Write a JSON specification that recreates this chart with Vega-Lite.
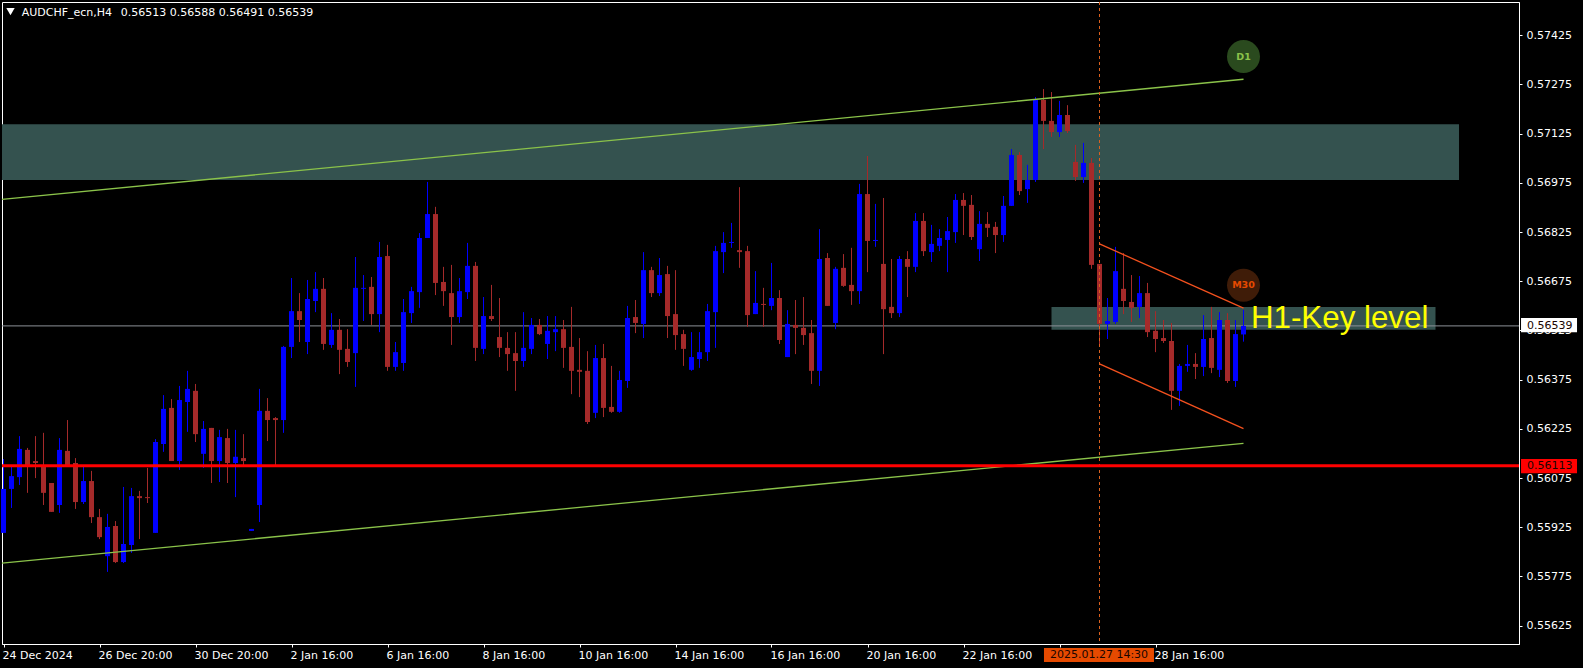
{"$schema":"https://vega.github.io/schema/vega-lite/v6.json","width":1517,"height":642,"autosize":"none","padding":{"left":2,"top":2,"right":64,"bottom":24},"background":"#000000","config":{"view":{"stroke":"#ffffff","strokeWidth":1},"axis":{"grid":false,"title":null}},
"datasets":{"candles":[
{"i":0,"s":"up","o":0.55908,"h":0.56133,"l":0.55908,"c":0.56042},
{"i":1,"s":"up","o":0.56042,"h":0.56109,"l":0.55984,"c":0.56081},
{"i":2,"s":"up","o":0.56078,"h":0.56203,"l":0.56054,"c":0.56164},
{"i":3,"s":"down","o":0.56161,"h":0.56167,"l":0.56030,"c":0.56112},
{"i":4,"s":"down","o":0.56127,"h":0.56203,"l":0.56075,"c":0.56121},
{"i":5,"s":"down","o":0.56115,"h":0.56213,"l":0.55993,"c":0.56030},
{"i":6,"s":"down","o":0.56060,"h":0.56060,"l":0.55972,"c":0.55972},
{"i":7,"s":"up","o":0.55993,"h":0.56197,"l":0.55969,"c":0.56161},
{"i":8,"s":"down","o":0.56158,"h":0.56252,"l":0.56112,"c":0.56115},
{"i":9,"s":"down","o":0.56121,"h":0.56136,"l":0.55981,"c":0.56002},
{"i":10,"s":"up","o":0.56002,"h":0.56109,"l":0.55996,"c":0.56066},
{"i":11,"s":"down","o":0.56066,"h":0.56097,"l":0.55938,"c":0.55956},
{"i":12,"s":"down","o":0.55956,"h":0.55981,"l":0.55889,"c":0.55895},
{"i":13,"s":"up","o":0.55837,"h":0.55966,"l":0.55789,"c":0.55926},
{"i":14,"s":"down","o":0.55929,"h":0.55944,"l":0.55816,"c":0.55819},
{"i":15,"s":"up","o":0.55819,"h":0.56048,"l":0.55816,"c":0.55874},
{"i":16,"s":"up","o":0.55871,"h":0.56045,"l":0.55847,"c":0.56020},
{"i":17,"s":"down","o":0.56020,"h":0.56036,"l":0.55889,"c":0.56014},
{"i":18,"s":"down","o":0.56017,"h":0.56106,"l":0.55999,"c":0.56014},
{"i":19,"s":"up","o":0.55908,"h":0.56194,"l":0.55908,"c":0.56185},
{"i":20,"s":"up","o":0.56179,"h":0.56328,"l":0.56155,"c":0.56286},
{"i":21,"s":"down","o":0.56289,"h":0.56316,"l":0.56127,"c":0.56127},
{"i":22,"s":"up","o":0.56127,"h":0.56356,"l":0.56100,"c":0.56313},
{"i":23,"s":"up","o":0.56307,"h":0.56402,"l":0.56216,"c":0.56347},
{"i":24,"s":"down","o":0.56341,"h":0.56362,"l":0.56185,"c":0.56209},
{"i":25,"s":"up","o":0.56149,"h":0.56249,"l":0.56106,"c":0.56225},
{"i":26,"s":"down","o":0.56228,"h":0.56228,"l":0.56060,"c":0.56127},
{"i":27,"s":"up","o":0.56127,"h":0.56222,"l":0.56063,"c":0.56200},
{"i":28,"s":"down","o":0.56197,"h":0.56225,"l":0.56060,"c":0.56121},
{"i":29,"s":"up","o":0.56121,"h":0.56222,"l":0.56017,"c":0.56140},
{"i":30,"s":"down","o":0.56136,"h":0.56209,"l":0.56115,"c":0.56127},
{"i":31,"s":"up","o":0.55914,"h":0.55920,"l":0.55914,"c":0.55920},
{"i":32,"s":"up","o":0.55993,"h":0.56347,"l":0.55941,"c":0.56280},
{"i":33,"s":"down","o":0.56280,"h":0.56319,"l":0.56188,"c":0.56252},
{"i":34,"s":"down","o":0.56258,"h":0.56261,"l":0.56115,"c":0.56252},
{"i":35,"s":"up","o":0.56252,"h":0.56478,"l":0.56213,"c":0.56475},
{"i":36,"s":"up","o":0.56475,"h":0.56685,"l":0.56441,"c":0.56584},
{"i":37,"s":"down","o":0.56584,"h":0.56639,"l":0.56490,"c":0.56557},
{"i":38,"s":"up","o":0.56490,"h":0.56679,"l":0.56453,"c":0.56621},
{"i":39,"s":"up","o":0.56615,"h":0.56703,"l":0.56581,"c":0.56652},
{"i":40,"s":"down","o":0.56652,"h":0.56685,"l":0.56466,"c":0.56484},
{"i":41,"s":"up","o":0.56481,"h":0.56578,"l":0.56472,"c":0.56527},
{"i":42,"s":"down","o":0.56527,"h":0.56560,"l":0.56392,"c":0.56466},
{"i":43,"s":"down","o":0.56469,"h":0.56529,"l":0.56414,"c":0.56429},
{"i":44,"s":"up","o":0.56456,"h":0.56749,"l":0.56353,"c":0.56655},
{"i":45,"s":"up","o":0.56652,"h":0.56694,"l":0.56554,"c":0.56655},
{"i":46,"s":"down","o":0.56658,"h":0.56688,"l":0.56542,"c":0.56575},
{"i":47,"s":"up","o":0.56575,"h":0.56795,"l":0.56520,"c":0.56749},
{"i":48,"s":"down","o":0.56752,"h":0.56786,"l":0.56402,"c":0.56414},
{"i":49,"s":"up","o":0.56414,"h":0.56490,"l":0.56402,"c":0.56459},
{"i":50,"s":"up","o":0.56426,"h":0.56621,"l":0.56402,"c":0.56581},
{"i":51,"s":"up","o":0.56578,"h":0.56658,"l":0.56548,"c":0.56645},
{"i":52,"s":"up","o":0.56642,"h":0.56822,"l":0.56594,"c":0.56807},
{"i":53,"s":"up","o":0.56807,"h":0.56978,"l":0.56807,"c":0.56880},
{"i":54,"s":"down","o":0.56880,"h":0.56902,"l":0.56633,"c":0.56670},
{"i":55,"s":"down","o":0.56673,"h":0.56719,"l":0.56600,"c":0.56645},
{"i":56,"s":"down","o":0.56639,"h":0.56725,"l":0.56481,"c":0.56566},
{"i":57,"s":"up","o":0.56566,"h":0.56685,"l":0.56548,"c":0.56645},
{"i":58,"s":"up","o":0.56642,"h":0.56792,"l":0.56621,"c":0.56722},
{"i":59,"s":"down","o":0.56722,"h":0.56734,"l":0.56432,"c":0.56472},
{"i":60,"s":"up","o":0.56469,"h":0.56627,"l":0.56453,"c":0.56569},
{"i":61,"s":"down","o":0.56569,"h":0.56664,"l":0.56554,"c":0.56560},
{"i":62,"s":"down","o":0.56505,"h":0.56624,"l":0.56444,"c":0.56472},
{"i":63,"s":"down","o":0.56472,"h":0.56520,"l":0.56402,"c":0.56453},
{"i":64,"s":"down","o":0.56456,"h":0.56520,"l":0.56341,"c":0.56432},
{"i":65,"s":"up","o":0.56432,"h":0.56581,"l":0.56414,"c":0.56472},
{"i":66,"s":"up","o":0.56469,"h":0.56563,"l":0.56453,"c":0.56542},
{"i":67,"s":"down","o":0.56542,"h":0.56560,"l":0.56511,"c":0.56514},
{"i":68,"s":"up","o":0.56484,"h":0.56569,"l":0.56438,"c":0.56524},
{"i":69,"s":"up","o":0.56520,"h":0.56569,"l":0.56462,"c":0.56529},
{"i":70,"s":"down","o":0.56529,"h":0.56557,"l":0.56411,"c":0.56472},
{"i":71,"s":"down","o":0.56475,"h":0.56597,"l":0.56331,"c":0.56402},
{"i":72,"s":"down","o":0.56405,"h":0.56502,"l":0.56322,"c":0.56399},
{"i":73,"s":"down","o":0.56402,"h":0.56462,"l":0.56240,"c":0.56246},
{"i":74,"s":"up","o":0.56274,"h":0.56481,"l":0.56258,"c":0.56441},
{"i":75,"s":"down","o":0.56441,"h":0.56484,"l":0.56261,"c":0.56289},
{"i":76,"s":"down","o":0.56292,"h":0.56417,"l":0.56274,"c":0.56277},
{"i":77,"s":"up","o":0.56277,"h":0.56402,"l":0.56274,"c":0.56374},
{"i":78,"s":"up","o":0.56371,"h":0.56600,"l":0.56350,"c":0.56563},
{"i":79,"s":"down","o":0.56566,"h":0.56618,"l":0.56517,"c":0.56548},
{"i":80,"s":"up","o":0.56545,"h":0.56764,"l":0.56502,"c":0.56709},
{"i":81,"s":"down","o":0.56709,"h":0.56719,"l":0.56627,"c":0.56639},
{"i":82,"s":"up","o":0.56639,"h":0.56746,"l":0.56630,"c":0.56694},
{"i":83,"s":"down","o":0.56697,"h":0.56722,"l":0.56502,"c":0.56569},
{"i":84,"s":"down","o":0.56575,"h":0.56709,"l":0.56466,"c":0.56511},
{"i":85,"s":"down","o":0.56514,"h":0.56527,"l":0.56417,"c":0.56469},
{"i":86,"s":"up","o":0.56405,"h":0.56520,"l":0.56402,"c":0.56444},
{"i":87,"s":"up","o":0.56438,"h":0.56520,"l":0.56411,"c":0.56459},
{"i":88,"s":"up","o":0.56459,"h":0.56606,"l":0.56432,"c":0.56584},
{"i":89,"s":"up","o":0.56581,"h":0.56783,"l":0.56472,"c":0.56767},
{"i":90,"s":"up","o":0.56764,"h":0.56825,"l":0.56700,"c":0.56792},
{"i":91,"s":"up","o":0.56792,"h":0.56853,"l":0.56777,"c":0.56795},
{"i":92,"s":"down","o":0.56770,"h":0.56962,"l":0.56716,"c":0.56764},
{"i":93,"s":"down","o":0.56767,"h":0.56783,"l":0.56536,"c":0.56572},
{"i":94,"s":"up","o":0.56575,"h":0.56706,"l":0.56575,"c":0.56609},
{"i":95,"s":"down","o":0.56606,"h":0.56655,"l":0.56536,"c":0.56603},
{"i":96,"s":"up","o":0.56600,"h":0.56731,"l":0.56587,"c":0.56624},
{"i":97,"s":"down","o":0.56624,"h":0.56648,"l":0.56484,"c":0.56496},
{"i":98,"s":"up","o":0.56444,"h":0.56587,"l":0.56444,"c":0.56545},
{"i":99,"s":"down","o":0.56542,"h":0.56618,"l":0.56453,"c":0.56533},
{"i":100,"s":"down","o":0.56533,"h":0.56627,"l":0.56481,"c":0.56511},
{"i":101,"s":"down","o":0.56517,"h":0.56557,"l":0.56362,"c":0.56402},
{"i":102,"s":"up","o":0.56402,"h":0.56834,"l":0.56356,"c":0.56743},
{"i":103,"s":"down","o":0.56746,"h":0.56761,"l":0.56600,"c":0.56600},
{"i":104,"s":"up","o":0.56548,"h":0.56719,"l":0.56529,"c":0.56713},
{"i":105,"s":"down","o":0.56716,"h":0.56758,"l":0.56658,"c":0.56661},
{"i":106,"s":"down","o":0.56664,"h":0.56777,"l":0.56603,"c":0.56645},
{"i":107,"s":"up","o":0.56645,"h":0.56972,"l":0.56606,"c":0.56941},
{"i":108,"s":"down","o":0.56941,"h":0.57057,"l":0.56703,"c":0.56798},
{"i":109,"s":"up","o":0.56798,"h":0.56911,"l":0.56780,"c":0.56801},
{"i":110,"s":"down","o":0.56728,"h":0.56929,"l":0.56453,"c":0.56590},
{"i":111,"s":"down","o":0.56597,"h":0.56743,"l":0.56563,"c":0.56578},
{"i":112,"s":"up","o":0.56578,"h":0.56752,"l":0.56566,"c":0.56743},
{"i":113,"s":"down","o":0.56743,"h":0.56767,"l":0.56627,"c":0.56719},
{"i":114,"s":"up","o":0.56719,"h":0.56883,"l":0.56703,"c":0.56859},
{"i":115,"s":"down","o":0.56859,"h":0.56883,"l":0.56752,"c":0.56767},
{"i":116,"s":"up","o":0.56764,"h":0.56847,"l":0.56734,"c":0.56789},
{"i":117,"s":"up","o":0.56783,"h":0.56834,"l":0.56767,"c":0.56807},
{"i":118,"s":"up","o":0.56801,"h":0.56871,"l":0.56703,"c":0.56828},
{"i":119,"s":"up","o":0.56825,"h":0.56941,"l":0.56792,"c":0.56923},
{"i":120,"s":"down","o":0.56923,"h":0.56944,"l":0.56816,"c":0.56905},
{"i":121,"s":"down","o":0.56908,"h":0.56938,"l":0.56801,"c":0.56810},
{"i":122,"s":"up","o":0.56773,"h":0.56889,"l":0.56737,"c":0.56850},
{"i":123,"s":"down","o":0.56850,"h":0.56886,"l":0.56810,"c":0.56838},
{"i":124,"s":"down","o":0.56841,"h":0.56856,"l":0.56761,"c":0.56816},
{"i":125,"s":"up","o":0.56816,"h":0.56935,"l":0.56795,"c":0.56905},
{"i":126,"s":"up","o":0.56905,"h":0.57078,"l":0.56905,"c":0.57060},
{"i":127,"s":"down","o":0.57060,"h":0.57069,"l":0.56938,"c":0.56950},
{"i":128,"s":"up","o":0.56956,"h":0.57030,"l":0.56914,"c":0.56984},
{"i":129,"s":"up","o":0.56984,"h":0.57237,"l":0.56978,"c":0.57228},
{"i":130,"s":"down","o":0.57228,"h":0.57261,"l":0.57078,"c":0.57164},
{"i":131,"s":"down","o":0.57164,"h":0.57252,"l":0.57115,"c":0.57130},
{"i":132,"s":"up","o":0.57130,"h":0.57225,"l":0.57115,"c":0.57182},
{"i":133,"s":"down","o":0.57182,"h":0.57212,"l":0.57127,"c":0.57133},
{"i":134,"s":"down","o":0.57039,"h":0.57091,"l":0.56981,"c":0.56993},
{"i":135,"s":"up","o":0.56993,"h":0.57097,"l":0.56975,"c":0.57036},
{"i":136,"s":"down","o":0.57036,"h":0.57051,"l":0.56713,"c":0.56725},
{"i":137,"s":"down","o":0.56728,"h":0.56728,"l":0.56478,"c":0.56545},
{"i":138,"s":"up","o":0.56545,"h":0.56624,"l":0.56499,"c":0.56554},
{"i":139,"s":"up","o":0.56551,"h":0.56780,"l":0.56545,"c":0.56706},
{"i":140,"s":"down","o":0.56652,"h":0.56761,"l":0.56575,"c":0.56615},
{"i":141,"s":"down","o":0.56612,"h":0.56694,"l":0.56551,"c":0.56594},
{"i":142,"s":"up","o":0.56597,"h":0.56691,"l":0.56563,"c":0.56639},
{"i":143,"s":"down","o":0.56639,"h":0.56670,"l":0.56505,"c":0.56520},
{"i":144,"s":"down","o":0.56524,"h":0.56584,"l":0.56459,"c":0.56499},
{"i":145,"s":"down","o":0.56502,"h":0.56557,"l":0.56487,"c":0.56493},
{"i":146,"s":"down","o":0.56493,"h":0.56548,"l":0.56283,"c":0.56341},
{"i":147,"s":"up","o":0.56341,"h":0.56423,"l":0.56295,"c":0.56417},
{"i":148,"s":"up","o":0.56417,"h":0.56481,"l":0.56399,"c":0.56423},
{"i":149,"s":"down","o":0.56423,"h":0.56456,"l":0.56377,"c":0.56414},
{"i":150,"s":"up","o":0.56414,"h":0.56572,"l":0.56386,"c":0.56499},
{"i":151,"s":"down","o":0.56502,"h":0.56597,"l":0.56395,"c":0.56411},
{"i":152,"s":"up","o":0.56405,"h":0.56581,"l":0.56383,"c":0.56557},
{"i":153,"s":"down","o":0.56557,"h":0.56578,"l":0.56365,"c":0.56371},
{"i":154,"s":"up","o":0.56371,"h":0.56557,"l":0.56353,"c":0.56514},
{"i":155,"s":"up","o":0.56513,"h":0.56588,"l":0.56491,"c":0.56539}
]},
"layer":[
{"data":{"values":[{"x1":-0.1875,"x2":181.94,"p1":0.57154,"p2":0.56984},{"x1":131,"x2":179,"p1":0.56597,"p2":0.56527}]},
"mark":{"type":"rect","fill":"#34524f"},
"encoding":{"x":{"field":"x1","type":"quantitative","scale":{"domain":[-0.1875,189.4375],"nice":false,"zero":false},"axis":{"orient":"bottom","values":[0,12,24,36,48,60,72,84,96,108,120,132,144],"labelExpr":"{'0':'24 Dec 2024','12':'26 Dec 20:00','24':'30 Dec 20:00','36':'2 Jan 16:00','48':'6 Jan 16:00','60':'8 Jan 16:00','72':'10 Jan 16:00','84':'14 Jan 16:00','96':'16 Jan 16:00','108':'20 Jan 16:00','120':'22 Jan 16:00','132':'24 Jan 16:00','144':'28 Jan 16:00'}[datum.value]","labelAlign":"left","labelBaseline":"middle","labelFont":"DejaVu Sans","labelFontSize":11,"labelColor":"#ffffff","labelPadding":8,"labelOffset":-1.5,"labelOverlap":false,"labelBound":false,"labelFlush":false,"tickColor":"#ffffff","tickSize":3,"domainColor":"#ffffff"}},"x2":{"field":"x2"},
"y":{"field":"p1","type":"quantitative","scale":{"domain":[0.555692,0.575265],"nice":false,"zero":false},"axis":{"orient":"right","values":[0.57425,0.57275,0.57125,0.56975,0.56825,0.56675,0.56525,0.56375,0.56225,0.56075,0.55925,0.55775,0.55625],"format":".5f","labelFont":"DejaVu Sans","labelFontSize":11,"labelColor":"#ffffff","labelPadding":4,"labelOverlap":false,"labelBound":false,"labelFlush":false,"tickColor":"#ffffff","tickSize":3,"domainColor":"#ffffff"}},"y2":{"field":"p2"}}},
{"data":{"values":[{"p":0.56539}]},"mark":{"type":"rule","color":"#8c9298","strokeWidth":1},"encoding":{"y":{"field":"p","type":"quantitative"}}},
{"data":{"name":"candles"},"mark":{"type":"rule","strokeWidth":1},"encoding":{"x":{"field":"i","type":"quantitative"},"y":{"field":"l","type":"quantitative"},"y2":{"field":"h"},"color":{"field":"s","type":"nominal","scale":{"domain":["up","down"],"range":["#0000ff","#a52a2a"]},"legend":null}}},
{"data":{"name":"candles"},"mark":{"type":"rule","strokeWidth":5},"encoding":{"x":{"field":"i","type":"quantitative"},"y":{"field":"o","type":"quantitative"},"y2":{"field":"c"},"color":{"field":"s","type":"nominal","legend":null}}},
{"data":{"values":[{"n":"a","x":-0.1875,"p":0.56925},{"n":"a","x":155,"p":0.57291},{"n":"b","x":-0.1875,"p":0.55816},{"n":"b","x":155,"p":0.56181}]},"mark":{"type":"line","color":"#8bc34a","strokeWidth":1.3},"encoding":{"detail":{"field":"n"},"x":{"field":"x","type":"quantitative"},"y":{"field":"p","type":"quantitative"}}},
{"data":{"values":[{"n":"a","x":137,"p":0.56789},{"n":"a","x":155,"p":0.56593},{"n":"b","x":137,"p":0.56423},{"n":"b","x":155,"p":0.56226}]},"mark":{"type":"line","color":"#f4511e","strokeWidth":1.3},"encoding":{"detail":{"field":"n"},"x":{"field":"x","type":"quantitative"},"y":{"field":"p","type":"quantitative"}}},
{"data":{"values":[{"x":137}]},"mark":{"type":"rule","color":"#d9601e","strokeWidth":1,"strokeDash":[3,3]},"encoding":{"x":{"field":"x","type":"quantitative"}}},
{"data":{"values":[{"p":0.56113}]},"mark":{"type":"rule","color":"#ff0000","strokeWidth":3},"encoding":{"y":{"field":"p","type":"quantitative"}}},
{"data":{"values":[{"x":155,"p":0.5736,"f":"#2a4a1e"},{"x":155,"p":0.56663,"f":"#3f1c08"}]},"mark":{"type":"point","shape":"circle","filled":true,"opacity":1,"size":1089},"encoding":{"x":{"field":"x","type":"quantitative"},"y":{"field":"p","type":"quantitative"},"color":{"field":"f","type":"nominal","scale":null}}},
{"data":{"values":[{"x":155,"p":0.5736,"t":"D1","f":"#8bc34a"},{"x":155,"p":0.56663,"t":"M30","f":"#e64a00"}]},"mark":{"type":"text","font":"DejaVu Sans","fontWeight":"bold","fontSize":9.5,"align":"center","baseline":"middle"},"encoding":{"x":{"field":"x","type":"quantitative"},"y":{"field":"p","type":"quantitative"},"text":{"field":"t"},"color":{"field":"f","type":"nominal","scale":null}}},
{"data":{"values":[{"x":155.93,"p":0.56532,"t":"H1-Key level"}]},"mark":{"type":"text","font":"Liberation Sans","fontSize":31.3,"align":"left","baseline":"alphabetic","color":"#ffff00"},"encoding":{"x":{"field":"x","type":"quantitative"},"y":{"field":"p","type":"quantitative"},"text":{"field":"t"}}},
{"data":{"values":[{"x1":189.69,"x2":196.69,"p1":0.56563,"p2":0.5652,"f":"#ffffff"},{"x1":189.69,"x2":196.69,"p1":0.56133,"p2":0.5609,"f":"#ff0000"},{"x1":130.06,"x2":143.81,"p1":0.55557,"p2":0.55514,"f":"#e64a00"}]},"mark":{"type":"rect","clip":false},"encoding":{"x":{"field":"x1","type":"quantitative"},"x2":{"field":"x2"},"y":{"field":"p1","type":"quantitative"},"y2":{"field":"p2"},"color":{"field":"f","type":"nominal","scale":null}}},
{"data":{"values":[{"x":190.44,"p":0.56539,"t":"0.56539"},{"x":190.44,"p":0.56113,"t":"0.56113"},{"x":130.8,"p":0.55536,"t":"2025.01.27 14:30"}]},"mark":{"type":"text","font":"DejaVu Sans","fontSize":11,"align":"left","baseline":"middle","color":"#1a0500"},"encoding":{"x":{"field":"x","type":"quantitative"},"y":{"field":"p","type":"quantitative"},"text":{"field":"t"}}},
{"data":{"values":[{"x":2.27,"p":0.57494,"t":"AUDCHF_ecn,H4"},{"x":14.65,"p":0.57494,"t":"0.56513 0.56588 0.56491 0.56539"}]},"mark":{"type":"text","font":"DejaVu Sans","fontSize":11,"align":"left","baseline":"middle","color":"#ffffff"},"encoding":{"x":{"field":"x","type":"quantitative"},"y":{"field":"p","type":"quantitative"},"text":{"field":"t"}}},
{"data":{"values":[{"x":0.875,"p":0.57497}]},"mark":{"type":"point","shape":"triangle-down","filled":true,"color":"#ffffff","opacity":1,"size":70},"encoding":{"x":{"field":"x","type":"quantitative"},"y":{"field":"p","type":"quantitative"}}}
]}
